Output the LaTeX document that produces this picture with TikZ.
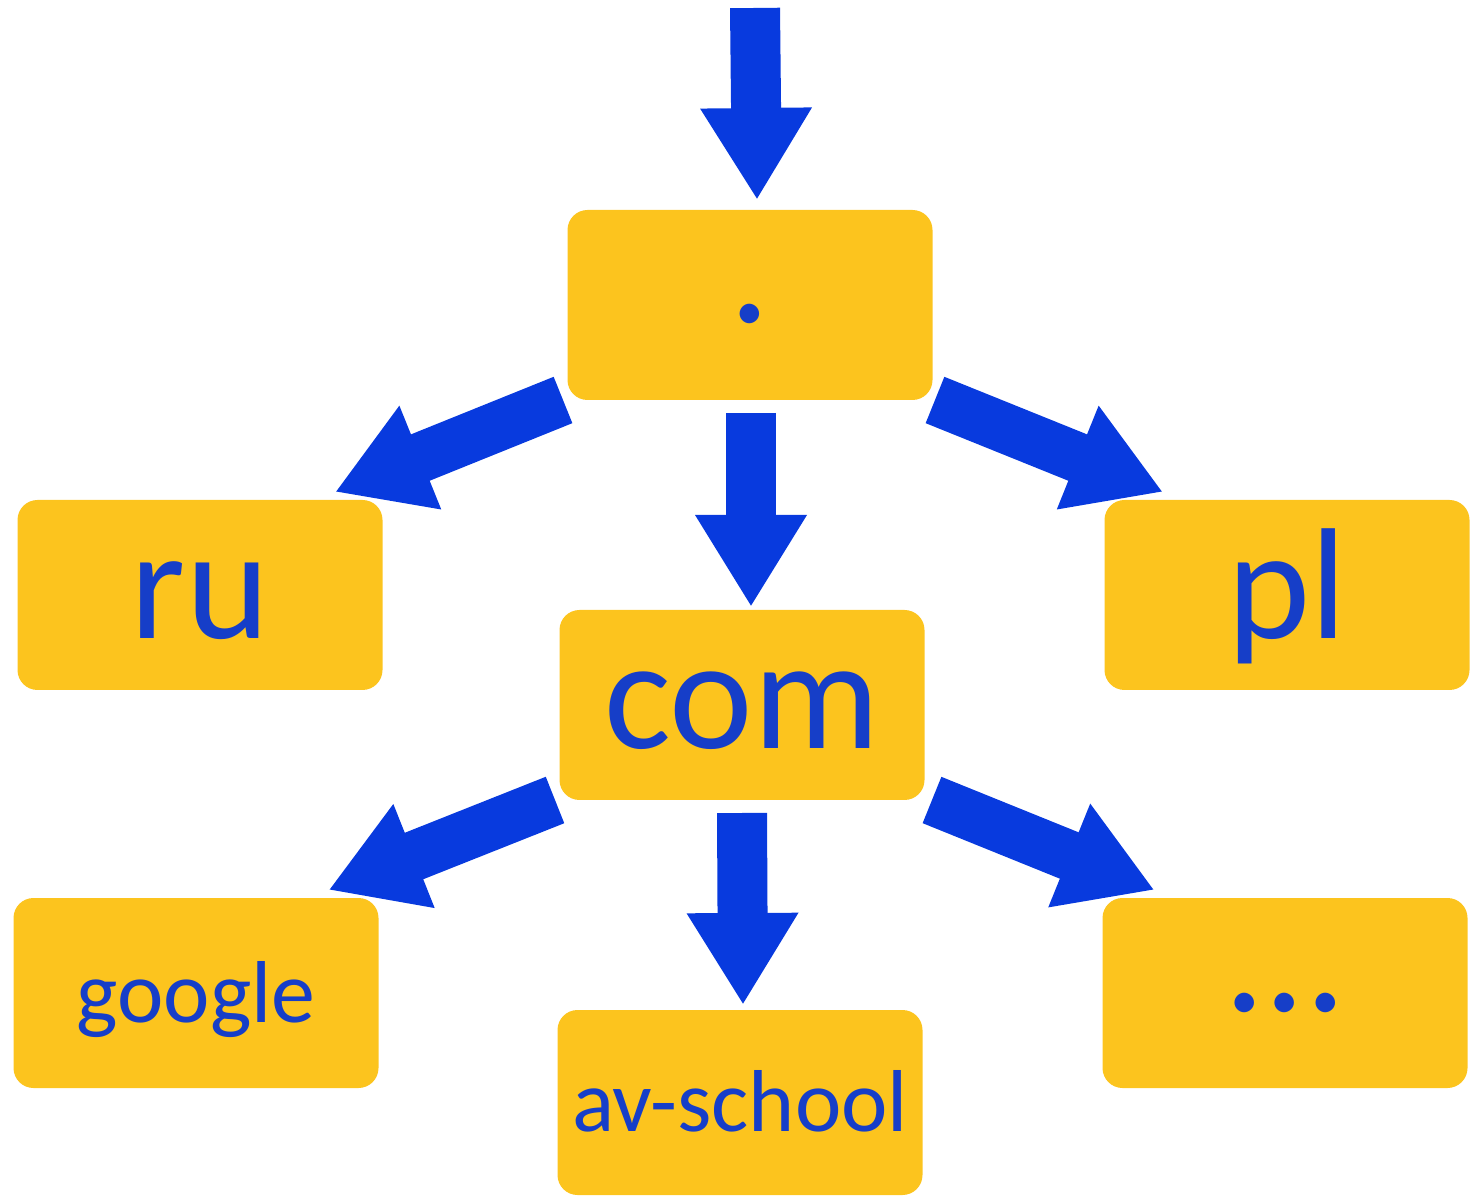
\documentclass[tikz,border=0pt]{standalone}
\usepackage{fontspec}
\setmainfont{Carlito}
\usepackage{tikz}
\usetikzlibrary{arrows.meta}
\usetikzlibrary{positioning}
\usepackage{xcolor}
\definecolor{zoneyellow}{RGB}{252,196,30}
\definecolor{linkblue}{RGB}{8,58,222}
\definecolor{labelblue}{RGB}{22,62,200}
\tikzset{%
  zone/.style={rectangle, rounded corners=0.2cm, fill=zoneyellow, text=labelblue,
    minimum width=3.65cm, minimum height=1.9cm, inner sep=0pt, outer sep=0pt},
  big zone/.style={zone, font=\fontsize{45}{50}\selectfont, text height=1.1cm, text depth=0.22cm},
  dot zone/.style={zone, font=\fontsize{46}{50}\selectfont, text height=0.4cm, text depth=0.04cm},
  small zone/.style={zone, font=\fontsize{25}{30}\selectfont, text height=0.75cm, text depth=0.17cm},
  link/.style={draw=linkblue, line width=0.5cm, -{Triangle[length=0.92cm, width=1.05cm]}, linkblue}
}

\begin{document}
\begin{tikzpicture}

          \useasboundingbox (0, 0) rectangle (14.73, 11.98);

          \node[dot zone] (root) at (7.50, 8.93) {.};
          \node[big zone] (ru) at (2.00, 6.03) {ru};
          \node[big zone] (pl) at (12.87, 6.03) {pl};
          \node[big zone] (com) at (7.42, 4.93) {com};
          \node[small zone] (google) at (1.96, 2.05) {google};
          \node[small zone, minimum height=1.85cm] (avschool) at (7.40, 0.955) {av-school};
          \node[dot zone] (more) at (12.85, 2.05) {…};

          \coordinate (entry) at (7.55, 11.90);

          \draw[link] (entry) -- ([xshift=0.07cm, yshift=0.1cm]root.north);
          \draw[link] ([xshift=-0.045cm]root.south west) -- ([shift={(-0.475, 0.08)}]ru.north east);
          \draw[link] ([xshift=0.025cm]root.south east) -- ([shift={(0.585, 0.08)}]pl.north west);
          \draw[link] ([shift={(0.01, -0.13)}]root.south) -- ([shift={(0.09, 0.03)}]com.north);

          \draw[link] ([xshift=-0.045cm]com.south west) -- ([shift={(-0.50, 0.08)}]google.north east);
          \draw[link] ([xshift=0.075cm]com.south east) -- ([shift={(0.52, 0.08)}]more.north west);
          \draw[link] ([shift={(0, -0.13)}]com.south) -- ([shift={(0.03, 0.05)}]avschool.north);
        \end{tikzpicture}
\end{document}
